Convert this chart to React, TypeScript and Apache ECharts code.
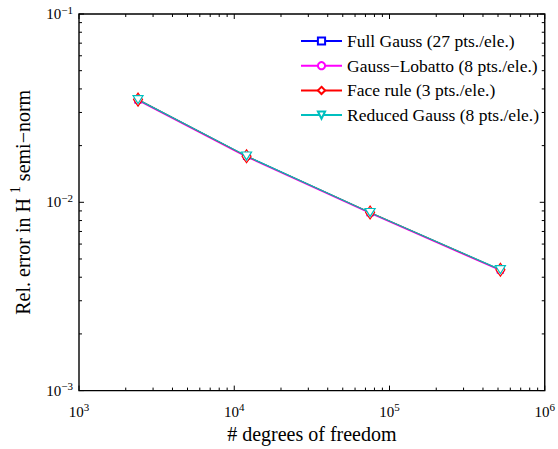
import React, { useEffect, useRef } from "react";
import * as echarts from "echarts";

const FONT = "Liberation Serif";

const dofs = [2400, 12000, 75000, 518000];
const fullGauss = [0.0350, 0.01755, 0.0088, 0.00437];
const gaussLobatto = [0.0347, 0.01743, 0.00874, 0.00434];
const faceRule = [0.0351, 0.01758, 0.00882, 0.00438];
const reducedGauss = [0.0351, 0.0176, 0.00883, 0.00439];

const seriesNames = [
  "Full Gauss (27 pts./ele.)",
  "Gauss\u2212Lobatto (8 pts./ele.)",
  "Face rule (3 pts./ele.)",
  "Reduced Gauss (8 pts./ele.)",
];

const X_MIN = 1e3;
const X_MAX = 1e6;
const Y_MIN = 1e-3;
const Y_MAX = 1e-1;

const xMajorTicks = [1e3, 1e4, 1e5, 1e6];
const yMajorTicks = [1e-3, 1e-2, 1e-1];
const mantissas = [2, 3, 4, 5, 6, 7, 8, 9];
const xMinorTicks = [1e3, 1e4, 1e5].flatMap((d) => mantissas.map((m) => m * d));
const yMinorTicks = [1e-3, 1e-2].flatMap((d) => mantissas.map((m) => +(m * d).toPrecision(3)));

function powLabel(v: number) {
  const e = Math.round(Math.log10(v));
  const s = e < 0 ? "\u2212" + Math.abs(e) : String(e);
  return `{b|10}{e|${s}}`;
}

const labelRich = {
  b: { fontSize: 15, fontFamily: FONT, color: "#000" },
  e: { fontSize: 11, fontFamily: FONT, color: "#000", padding: [0, 0, 9, 0] },
};

export default function App() {
  const ref = useRef<HTMLDivElement>(null);
  useEffect(() => {
    if (!ref.current) return;
    const chart = echarts.init(ref.current, null, { renderer: "svg" });

    const xTickData = [
      ...xMajorTicks.map((v) => [v, Y_MIN, 5]),
      ...xMinorTicks.map((v) => [v, Y_MIN, 3]),
    ];
    const yTickData = [
      ...yMajorTicks.map((v) => [X_MIN, v, 5]),
      ...yMinorTicks.map((v) => [X_MIN, v, 3]),
    ];

    const mkLine = (
      name: string,
      vals: number[],
      color: string,
      symbol: string,
      size: number | number[],
      rotate = 0
    ) => ({
      type: "line",
      name,
      data: dofs.map((d, i) => [d, vals[i]]),
      symbol,
      symbolSize: size,
      symbolRotate: rotate,
      showAllSymbol: true,
      lineStyle: { color, width: 1.2 },
      itemStyle: { color: "#fff", borderColor: color, borderWidth: 1.2 },
      emphasis: { disabled: true },
      clip: false,
    });

    chart.setOption({
      animation: false,
      backgroundColor: "#fff",
      textStyle: { fontFamily: FONT },
      grid: {
        left: 73,
        right: 12,
        top: 14,
        bottom: 57,
        show: true,
        borderColor: "#000",
        borderWidth: 1.4,
        backgroundColor: "transparent",
      },
      legend: {
        orient: "vertical",
        left: 295,
        top: 27,
        itemWidth: 41,
        itemHeight: 9,
        itemGap: 6.7,
        selectedMode: false,
        data: seriesNames,
        textStyle: { fontFamily: FONT, fontSize: 17.5, color: "#000", lineHeight: 14 },
      },
      xAxis: {
        type: "log",
        logBase: 10,
        min: X_MIN,
        max: X_MAX,
        name: "# degrees of freedom",
        nameLocation: "middle",
        nameGap: 27,
        nameTextStyle: { fontFamily: FONT, fontSize: 20, color: "#000" },
        axisLine: { show: false },
        axisTick: { show: false },
        minorTick: { show: false },
        splitLine: { show: false },
        axisLabel: {
          margin: 11,
          formatter: (v: number) => powLabel(v),
          rich: labelRich,
        },
      },
      yAxis: {
        type: "log",
        logBase: 10,
        min: Y_MIN,
        max: Y_MAX,
        name: "{a|Rel. error in H }{s|1}{a| semi\u2212norm}",
        nameLocation: "middle",
        nameRotate: 90,
        nameGap: 42,
        nameTextStyle: {
          fontFamily: FONT,
          fontSize: 20,
          color: "#000",
          rich: {
            a: { fontFamily: FONT, fontSize: 20, color: "#000" },
            s: { fontFamily: FONT, fontSize: 14, color: "#000", padding: [0, 0, 15, 0] },
          },
        },
        axisLine: { show: false },
        axisTick: { show: false },
        minorTick: { show: false },
        splitLine: { show: false },
        axisLabel: {
          margin: 6,
          formatter: (v: number) => powLabel(v),
          rich: labelRich,
        },
      },
      series: [
        {
          type: "custom",
          name: "xticks",
          silent: true,
          clip: false,
          data: xTickData,
          encode: { x: 0, y: 1 },
          renderItem: (params: any, api: any) => {
            const v = api.value(0);
            const len = api.value(2);
            const pb = api.coord([v, Y_MIN]);
            const pt = api.coord([v, Y_MAX]);
            const st = { stroke: "#000", lineWidth: 1 };
            return {
              type: "group",
              children: [
                { type: "line", shape: { x1: pb[0], y1: pb[1], x2: pb[0], y2: pb[1] - len }, style: st },
                { type: "line", shape: { x1: pt[0], y1: pt[1], x2: pt[0], y2: pt[1] + len }, style: st },
              ],
            };
          },
        },
        {
          type: "custom",
          name: "yticks",
          silent: true,
          clip: false,
          data: yTickData,
          encode: { x: 0, y: 1 },
          renderItem: (params: any, api: any) => {
            const v = api.value(1);
            const len = api.value(2);
            const pl = api.coord([X_MIN, v]);
            const pr = api.coord([X_MAX, v]);
            const st = { stroke: "#000", lineWidth: 1 };
            return {
              type: "group",
              children: [
                { type: "line", shape: { x1: pl[0], y1: pl[1], x2: pl[0] + len, y2: pl[1] }, style: st },
                { type: "line", shape: { x1: pr[0], y1: pr[1], x2: pr[0] - len, y2: pr[1] }, style: st },
              ],
            };
          },
        },
        mkLine(seriesNames[0], fullGauss, "#0000ff", "rect", 6),
        mkLine(seriesNames[1], gaussLobatto, "#ff00ff", "circle", 7),
        mkLine(seriesNames[2], faceRule, "#ff0000", "diamond", [9, 13]),
        mkLine(seriesNames[3], reducedGauss, "#00bfbf", "triangle", [10, 8], 180),
      ],
    });
    return () => chart.dispose();
  }, []);
  return (
    <div
      ref={ref}
      style={{ position: "fixed", left: 0, top: 0, width: 558, height: 449 }}
    />
  );
}
